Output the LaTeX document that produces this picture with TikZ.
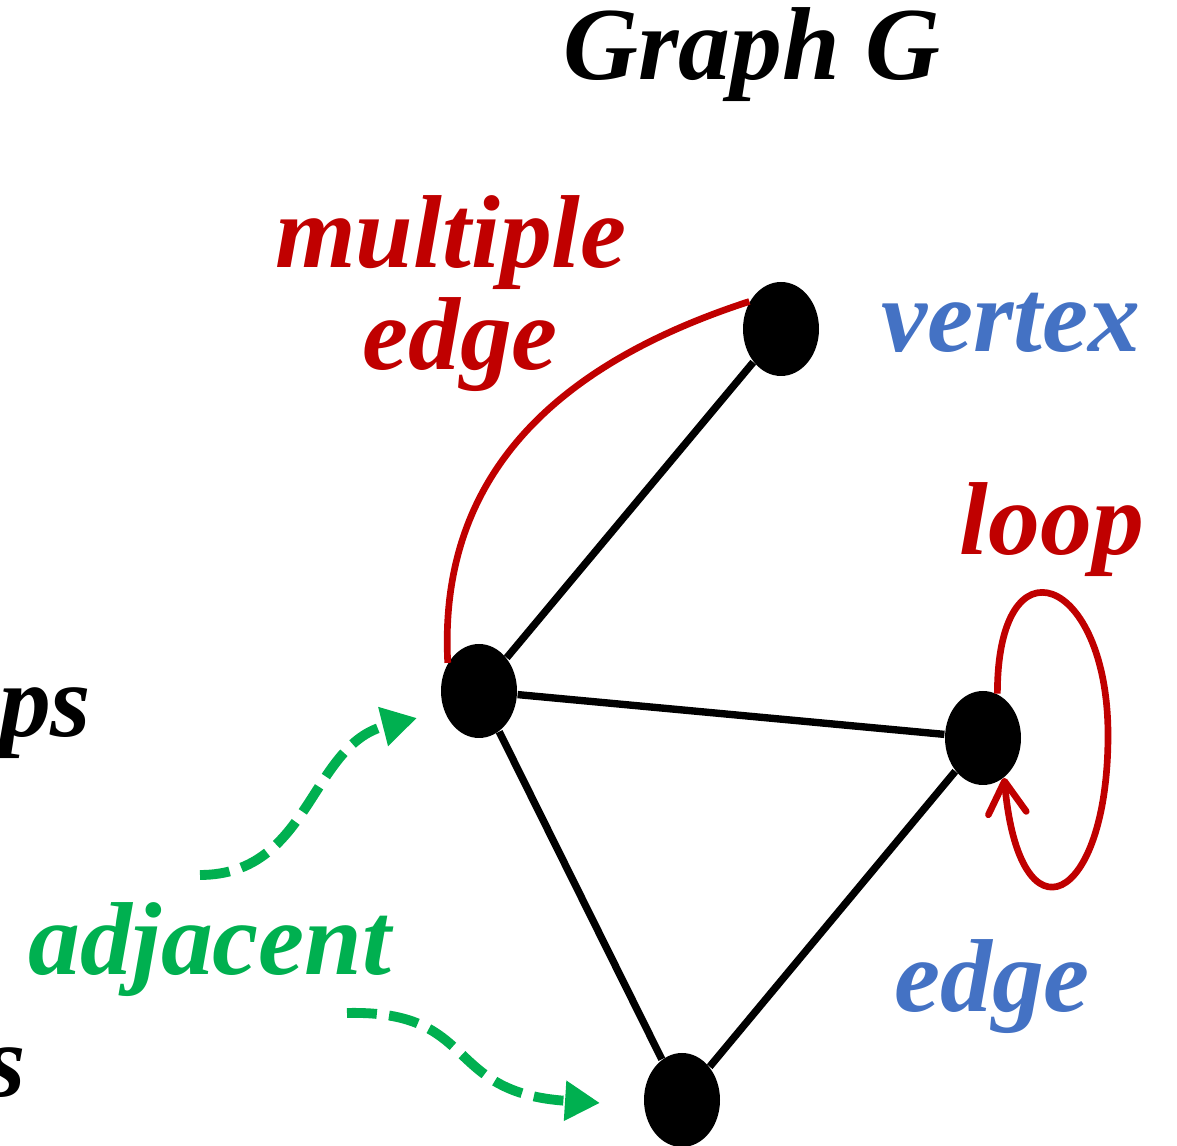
\documentclass[tikz,border=0pt]{standalone}
\usepackage{fontspec}
\setmainfont{Liberation Serif}
\usepackage{tikz}
\usetikzlibrary{shapes.geometric,arrows.meta,calc}
\definecolor{gred}{RGB}{192,0,0}
\definecolor{gblue}{RGB}{68,114,196}
\definecolor{ggreen}{RGB}{0,176,80}
\tikzset{
  vtx/.style={ellipse,fill=black,minimum width=7.6mm,minimum height=9.4mm,inner sep=0pt},
  edg/.style={line width=2.1pt,black},
  multi/.style={line width=1.9pt,gred},
  lp/.style={line width=1.9pt,gred,-{Straight Barb[length=3.2mm,width=3.8mm,round]}},
  adj/.style={line width=2.8pt,ggreen,dash pattern=on 8.5pt off 3.5pt,-{Triangle[length=3.5mm,width=3.8mm]}},
  lbl/.style={font=\fontsize{29.5}{34}\selectfont\bfseries\itshape,inner sep=0pt,anchor=base}
}
\begin{document}
\begin{tikzpicture}
\useasboundingbox (0,0) rectangle (11.77,11.46);
\node[vtx] (v1) at (7.81,8.17) {};
\node[vtx] (v2) at (4.79,4.55) {};
\node[vtx] (v3) at (9.83,4.08) {};
\node[vtx] (v4) at (6.82,0.46) {};
\draw[edg] (v2) -- (v1);
\draw[edg] (v2) -- (v3);
\draw[edg] (v2) -- (v4);
\draw[edg] (v4) -- (v3);
\draw[multi] (v2.138) .. controls +(93:1.9) and +(198:2.0) .. (v1.139);
\coordinate (lpR) at (11.08,4.11);
\draw[lp] (v3.72) .. controls +(0,1.6) and +(0,1.6) .. (lpR) .. controls +(0,-1.7) and +(0.15,-1.7) .. (v3.-62);
\coordinate (adjA) at (2.00,2.71);
\coordinate (adjAtip) at (4.17,4.28);
\coordinate (adjB) at (3.47,1.33);
\coordinate (adjBtip) at (6.00,0.43);
\draw[adj] (adjA) .. controls +(1.1,0) and +(-1.07,-0.27) .. (adjAtip);
\draw[adj] (adjB) .. controls +(1.33,0.03) and +(-1.58,0.10) .. (adjBtip);
\node[lbl] (title) at (7.52,10.66) {Graph G};
\node[lbl,gred] (mul) at (4.51,8.78) {multiple};
\node[lbl,gred] (mule) at (4.60,7.76) {edge};
\node[lbl,gblue] (vt) at (10.11,7.94) {vertex};
\node[lbl,gred] (lpl) at (10.52,5.91) {loop};
\node[lbl,gblue] (ed) at (9.92,1.34) {edge};
\node[lbl,ggreen] (adjl) at (2.10,1.71) {adjacent};
\node[lbl,anchor=base east] (ops) at (0.92,4.09) {ops};
\node[lbl,anchor=base east] (ss) at (0.27,0.49) {s};
\end{tikzpicture}
\end{document}
